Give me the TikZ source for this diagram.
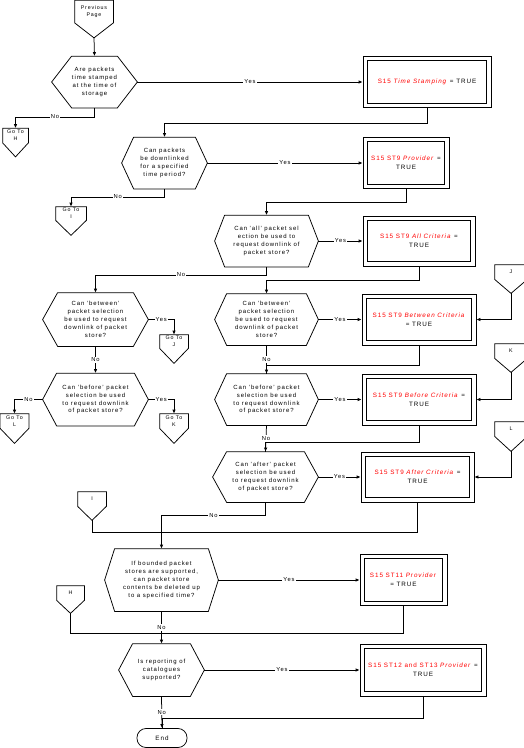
\documentclass[tikz,border=0pt]{standalone}
\usepackage{fontspec}
\setmainfont{Liberation Sans}[LetterSpace=15]
\usepackage{xcolor}
\usepackage{tikz}
\usetikzlibrary{arrows.meta}
\newcommand{\crit}[1]{\textcolor{red}{#1}}
\newcommand{\hexagono}[2]{\draw (#1.west) -- ([xshift=#2]#1.north west) -- ([xshift=-#2]#1.north east) -- (#1.east) -- ([xshift=-#2]#1.south east) -- ([xshift=#2]#1.south west) -- cycle;}
\newcommand{\pentagono}[2]{\draw (#1.south west) -- (#1.north west) -- (#1.north east) -- (#1.south east) -- ([yshift=-#2]#1.south) -- cycle; \coordinate (#1-ponta) at ([yshift=-#2]#1.south);}
\newcommand{\moldura}[1]{\draw ([xshift=4.6pt,yshift=-4.6pt]#1.north west) rectangle ([xshift=-4.6pt,yshift=4.6pt]#1.south east);}
\tikzset{
  decisao/.style={minimum width=#1, minimum height=51pt, inner sep=0pt, align=center, font=\fontsize{6}{7.9}\selectfont},
  resultado/.style={draw, align=center, minimum width=#1, minimum height=51pt, inner sep=2pt, font=\fontsize{6.3}{8.6}\selectfont},
  conector/.style={minimum width=#1, minimum height=14pt, inner sep=0pt, align=center, font=\fontsize{5.3}{6.8}\selectfont},
  fim/.style={draw, rounded corners=9pt, minimum width=50pt, minimum height=19pt, font=\fontsize{6.3}{7}\selectfont},
  seta/.style={-{Latex[length=4pt,width=3.5pt]}},
  rotulo/.style={fill=white, inner sep=1pt, font=\fontsize{5.8}{6}\selectfont},
}
\begin{document}
\begin{tikzpicture}[x=1pt, y=-1pt, line width=0.75pt]
  \useasboundingbox (0,0) rectangle (524,748);
  % decisions
  \node[decisao=85pt] (d1) at (94.5,82) {Are packets\\time stamped\\at the time of\\storage};
  \node[decisao=85pt] (d2) at (164.5,163) {Can packets\\be downlinked\\for a specified\\time period?};
  \node[decisao=103pt] (d3) at (266.5,241) {Can 'all' packet sel\\ection be used to\\request downlink of\\packet store?};
  \node[decisao=105pt, minimum height=53pt] (d4) at (95.5,319.5) {Can 'between'\\packet selection\\be used to request\\downlink of packet\\store?};
  \node[decisao=103pt] (d5) at (266.5,319.5) {Can 'between'\\packet selection\\be used to request\\downlink of packet\\store?};
  \node[decisao=105pt, minimum height=52pt] (d6) at (95.5,399.5) {Can 'before' packet\\selection be used\\to request downlink\\of packet store?};
  \node[decisao=103pt] (d7) at (266.5,399.5) {Can 'before' packet\\selection be used\\to request downlink\\of packet store?};
  \node[decisao=105pt, minimum height=50pt] (d8) at (265.5,477) {Can 'after' packet\\selection be used\\to request downlink\\of packet store?};
  \node[decisao=113pt, minimum height=62pt] (d9) at (161.5,580) {If bounded packet\\stores are supported,\\can packet store\\contents be deleted up\\to a specified time?};
  \node[decisao=85pt, minimum height=52pt] (d10) at (161.5,670) {Is reporting of\\catalogues\\supported?};
  \foreach \d/\c in {d1/20pt,d2/12pt,d3/10pt,d4/15pt,d5/12pt,d6/14pt,d7/12pt,d8/14pt,d9/10pt,d10/14pt}
    {\hexagono{\d}{\c}}
  % results
  \node[resultado=128pt] (b1) at (427,82) {\crit{S15 \textit{Time Stamping}} = TRUE};
  \node[resultado=86pt] (b2) at (406,163) {\crit{S15 ST9 \textit{Provider}} =\\TRUE};
  \node[resultado=112pt, minimum height=50pt] (b3) at (419,241) {\crit{S15 ST9 \textit{All Criteria}} =\\TRUE};
  \node[resultado=114pt] (b4) at (419,319.5) {\crit{S15 ST9 \textit{Between Criteria}}\\= TRUE};
  \node[resultado=114pt] (b5) at (419,399.5) {\crit{S15 ST9 \textit{Before Criteria}} =\\TRUE};
  \node[resultado=113pt, minimum height=50pt] (b6) at (417.5,477) {\crit{S15 ST9 \textit{After Criteria}} =\\TRUE};
  \node[resultado=87pt] (b7) at (403.5,580) {\crit{S15 ST11 \textit{Provider}}\\= TRUE};
  \node[resultado=126pt, minimum height=52pt] (b8) at (423,670) {\crit{S15 ST12 and ST13 \textit{Provider}} =\\TRUE};
  \foreach \b in {b1,b2,b3,b4,b5,b6,b7,b8}
    {\moldura{\b}}
  % off-page connectors
  \node[conector=38pt, minimum height=22pt] (prev) at (94,11.5) {Previous\\Page};
  \node[conector=25pt] (goH) at (15.5,135.5) {Go To\\H};
  \node[conector=30pt, minimum height=13pt] (goI) at (71,213.5) {Go To\\I};
  \node[conector=28pt, minimum height=13pt] (goJ) at (174,341.5) {Go To\\J};
  \node[conector=28pt] (goK) at (174,421) {Go To\\K};
  \node[conector=28pt] (goL) at (14.5,421) {Go To\\L};
  \node[conector=32pt] (cJ) at (511,272) {J};
  \node[conector=32pt] (cK) at (511,351) {K};
  \node[conector=32pt] (cL) at (511,429) {L};
  \node[conector=28pt] (cI) at (92,499) {I};
  \node[conector=27pt] (cH) at (70.5,593) {H};
  \foreach \n/\t in {prev/15pt,goH/14pt,goI/15pt,goJ/15pt,goK/15pt,goL/15pt,cJ/14pt,cK/14pt,cL/15pt,cI/14pt,cH/13pt}
    {\pentagono{\n}{\t}}
  \node[fim] (fim) at (162,738) {End};
  % flow
  \draw[seta] (prev-ponta) -- (d1.north);
  \draw[seta] (d1.east) -- node[rotulo]{Yes} (b1.west);
  \draw[seta] (d1.south) -- ++(0,9) -| node[rotulo, pos=0.25]{No} (goH.north);
  \draw[seta] (b1.south) -- ++(0,15) -| (d2.north);
  \draw[seta] (d2.east) -- node[rotulo]{Yes} (b2.west);
  \draw[seta] (d2.south) -- ++(0,8) -| node[rotulo, pos=0.25]{No} (goI.north);
  \draw[seta] (b2.south) -- ++(0,13) -| (d3.north);
  \draw[seta] (d3.east) -- node[rotulo]{Yes} (b3.west);
  \draw[seta] (d3.south) -- ++(0,8) -| node[rotulo, pos=0.25]{No} (d4.north);
  \draw[seta] (b3.south) -- ++(0,14) -| (d5.north);
  \draw[seta] (d4.east) -| node[rotulo, pos=0.25]{Yes} (goJ.north);
  \draw[seta] (d4.south) -- node[rotulo]{No} (d6.north);
  \draw[seta] (d6.east) -| node[rotulo, pos=0.25]{Yes} (goK.north);
  \draw[seta] (d6.west) -| node[rotulo, pos=0.25]{No} (goL.north);
  \draw[seta] (d5.east) -- node[rotulo]{Yes} (b4.west);
  \draw[seta] (d5.south) -- node[rotulo]{No} (d7.north);
  \draw (b4.south) -- ++(0,20) -| (d7.north);
  \draw[seta] (cJ-ponta) |- (b4.east);
  \draw[seta] (d7.east) -- node[rotulo]{Yes} (b5.west);
  \draw[seta] (d7.south) -- node[rotulo]{No} (d8.north);
  \draw (b5.south) -- ++(0,17) -| (d8.north);
  \draw[seta] (cK-ponta) |- (b5.east);
  \draw[seta] (d8.east) -- node[rotulo]{Yes} (b6.west);
  \draw[seta] (d8.south) -- ++(0,13) -| node[rotulo, pos=0.25]{No} (d9.north);
  \draw[seta] (cL-ponta) |- (b6.east);
  \draw (cI-ponta) -- ++(0,12) -| (b6.south);
  \draw[seta] (d9.east) -- node[rotulo]{Yes} (b7.west);
  \draw[seta] (d9.south) -- node[rotulo]{No} (d10.north);
  \draw (cH-ponta) -- ++(0,20) -| (b7.south);
  \draw[seta] (d10.east) -- node[rotulo]{Yes} (b8.west);
  \draw[seta] (d10.south) -- node[rotulo]{No} (fim.north);
  \draw (b8.south) -- ++(0,22) -| (fim.north);
\end{tikzpicture}
\end{document}
